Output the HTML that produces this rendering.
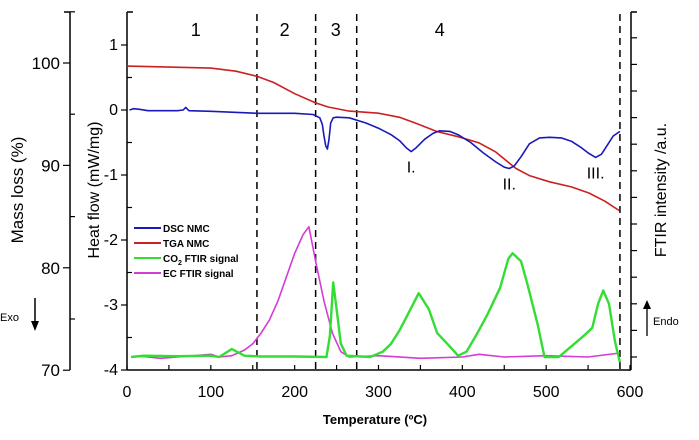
<!DOCTYPE html>
<html><head><meta charset="utf-8"><style>
body{margin:0;background:#fff;}
svg{display:block;font-family:"Liberation Sans",sans-serif;}
</style></head><body>
<svg id="chart" width="699" height="440" viewBox="0 0 699 440">
<g id="axes"></g>
<g id="marks"></g>
</svg>
<script>
const tempTicks=[0,100,200,300,400,500,600];
const hfTicks=[1,0,-1,-2,-3,-4];
const hfTickLabels=["1","0","-1","-2","-3","-4"];
const massTicks=[100,90,80,70];
const regionBounds=[155,225,274,588];
const regionLabels=["1","2","3","4"];
const regionLabelT=[82,188,249,373];
const dscT=[3,8,15,25,60,67,70,74,100,155,200,222,230,233,235,237,239,241,243,246,250,265,285,300,315,325,333,339,345,355,365,373,385,395,410,425,440,450,456,462,470,480,492,504,518,530,542,550,559,566,574,580,588];
const dscV=[0.0,0.02,0.01,-0.01,-0.01,0.0,0.04,-0.01,-0.02,-0.05,-0.05,-0.07,-0.12,-0.22,-0.4,-0.55,-0.6,-0.45,-0.2,-0.12,-0.11,-0.12,-0.2,-0.28,-0.38,-0.47,-0.58,-0.64,-0.58,-0.45,-0.36,-0.32,-0.33,-0.38,-0.5,-0.66,-0.8,-0.88,-0.9,-0.86,-0.72,-0.52,-0.43,-0.42,-0.43,-0.48,-0.58,-0.66,-0.73,-0.68,-0.52,-0.4,-0.33];
const tgaT=[0,50,100,130,155,175,200,225,240,265,300,325,345,370,395,420,440,464,480,504,530,551,570,587];
const tgaV=[99.7,99.6,99.5,99.2,98.7,98.1,97.0,96.1,95.7,95.3,95.1,94.7,94.1,93.3,92.8,92.2,91.3,89.7,89.0,88.4,87.9,87.3,86.5,85.6];
const co2T=[5,20,60,100,110,125,140,160,200,238,242,246,250,255,262,290,305,315,325,335,348,360,370,385,395,405,418,430,445,455,460,470,478,490,498,515,530,545,555,562,568,575,582,588];
const co2V=[0,0.05,0.03,0.05,0.0,0.3,0.05,0.02,0.02,0.0,0.8,2.8,1.8,0.5,0.05,0.0,0.2,0.5,1.0,1.6,2.4,1.8,0.9,0.4,0.05,0.2,0.9,1.6,2.6,3.7,3.9,3.6,2.7,1.2,0.0,0.0,0.4,0.8,1.1,2.0,2.5,2.0,0.6,-0.2];
const ecT=[5,20,40,60,80,100,110,125,140,150,160,170,180,190,200,210,217,225,235,245,255,265,300,350,400,420,450,500,550,588];
const ecV=[0,0.02,-0.05,0.0,0.05,0.1,0.0,0.05,0.26,0.5,0.9,1.4,2.1,3.0,3.9,4.6,4.9,3.6,2.1,0.9,0.2,0.0,0.05,-0.05,0.0,0.1,0.0,0.05,0.0,0.15];
const seriesNames=["DSC NMC","TGA NMC","CO2 FTIR signal","EC FTIR signal"];
const seriesColors=["#1a1ab8","#cc2020","#33dd33","#d43cd4"];

const X=t=>127+t*(503/600);
const YH=v=>110-v*65;
const YM=m=>63+(100-m)*10.24;
const YF=v=>357-v*26.6;
const NS="http://www.w3.org/2000/svg";
const axes=document.getElementById('axes'), marks=document.getElementById('marks');
function el(tag,attrs,parent,text){const e=document.createElementNS(NS,tag);for(const k in attrs)e.setAttribute(k,attrs[k]);if(text!==undefined)e.textContent=text;parent.appendChild(e);return e;}

let a=el('line',{x1:127,y1:370,x2:631,y2:370,stroke:'#000','stroke-width':1.5},axes);

a=el('line',{x1:127,y1:12,x2:127,y2:370,stroke:'#000','stroke-width':1.5},axes);

a=el('line',{x1:70,y1:12,x2:70,y2:370,stroke:'#000','stroke-width':1.5},axes);

a=el('line',{x1:631,y1:12,x2:631,y2:370,stroke:'#000','stroke-width':1.5},axes);

el('line',{x1:127,y1:12,x2:133,y2:12,stroke:'#000','stroke-width':1.5},axes);
el('line',{x1:64,y1:12,x2:70,y2:12,stroke:'#000','stroke-width':1.5},axes);
el('line',{x1:631,y1:12,x2:637,y2:12,stroke:'#000','stroke-width':1.5},axes);

for(let t=0;t<=600;t+=50){el('line',{x1:X(t),y1:370,x2:X(t),y2:365,stroke:'#000','stroke-width':1.2},axes);}
tempTicks.forEach(t=>{const e=el('text',{x:X(t),y:397,'font-size':16,'text-anchor':'middle'},axes,String(t));
});
for(let v=1;v>=-4;v-=0.5){const major=Number.isInteger(v);el('line',{x1:major?121:127,y1:YH(v),x2:major?127:132,y2:YH(v),stroke:'#000','stroke-width':1.2},axes);}
hfTicks.forEach((v,i)=>{const e=el('text',{x:118,y:YH(v)+5,'font-size':16,'text-anchor':'end'},axes,hfTickLabels[i]);
});
for(let m=70;m<=105;m+=5){const major=m%10===0;el('line',{x1:major?63:70,y1:YM(m),x2:major?70:75,y2:YM(m),stroke:'#000','stroke-width':1.2},axes);}
massTicks.forEach(m=>{const e=el('text',{x:60,y:YM(m)+6,'font-size':17,'text-anchor':'end'},axes,String(m));
});
for(let i=0;i<=12;i++){el('line',{x1:631,y1:YF(i),x2:637,y2:YF(i),stroke:'#000','stroke-width':1.2},axes);}

let t=el('text',{x:23,y:190,'font-size':17,'text-anchor':'middle',transform:'rotate(-90 23 190)'},axes,'Mass loss (%)');

t=el('text',{x:99,y:190,'font-size':16,'text-anchor':'middle',transform:'rotate(-90 99 190)'},axes,'Heat flow (mW/mg)');

t=el('text',{x:666,y:190,'font-size':16,'text-anchor':'middle',transform:'rotate(-90 666 190)'},axes,'FTIR intensity /a.u.');

t=el('text',{x:375,y:424,'font-size':13,'font-weight':'bold','text-anchor':'middle'},axes,'Temperature (ºC)');

t=el('text',{x:0,y:321,'font-size':11},axes,'Exo');

el('line',{x1:35,y1:298,x2:35,y2:322,stroke:'#000','stroke-width':1.5},axes);
el('polygon',{points:'31,321 39,321 35,331',fill:'#000'},axes);
t=el('text',{x:653,y:325,'font-size':11},axes,'Endo');

el('line',{x1:647,y1:307,x2:647,y2:336,stroke:'#000','stroke-width':1.3},axes);
el('polygon',{points:'643,309 651,309 647,300',fill:'#000'},axes);

regionBounds.forEach(b=>{const e=el('line',{x1:X(b),y1:14,x2:X(b),y2:370,stroke:'#000','stroke-width':1.5,'stroke-dasharray':'7,5'},marks);
});
regionLabels.forEach((l,i)=>{const e=el('text',{x:X(regionLabelT[i]),y:36,'font-size':18,'text-anchor':'middle'},marks,l);
});

function path(T,V,Y,color,name){const d=T.map((x,i)=>(i?'L':'M')+X(x).toFixed(1)+','+Y(V[i]).toFixed(1)).join(' ');
const p=el('path',{d:d,fill:'none',stroke:color,'stroke-width':name.startsWith('co2')?2.4:1.6,'stroke-linejoin':'round'},marks);
}
path(ecT,ecV,YF,seriesColors[3],'ec-ftir-line');
path(co2T,co2V,YF,seriesColors[2],'co2-ftir-line');
path(tgaT,tgaV,YM,seriesColors[1],'tga-line');
path(dscT,dscV,YH,seriesColors[0],'dsc-line');

[['I.',339,-0.64],['II.',456,-0.9],['III.',559,-0.73]].forEach(p=>{const e=el('text',{x:X(p[1]),y:YH(p[2])+21,'font-size':16,'text-anchor':'middle'},marks,p[0]);
});

const lg=el('g',{},marks);

seriesNames.forEach((n,i)=>{const y=228+i*15;
el('line',{x1:134,y1:y,x2:161,y2:y,stroke:seriesColors[i],'stroke-width':2},lg);
const tx=el('text',{x:163,y:y+4,'font-size':10,'font-weight':'bold'},lg);

if(n.startsWith('CO2')){tx.appendChild(document.createTextNode('CO'));const s=el('tspan',{dy:3,'font-size':7},tx,'2');el('tspan',{dy:-3},tx,' FTIR signal');}
else tx.textContent=n;});
</script>
</body></html>
